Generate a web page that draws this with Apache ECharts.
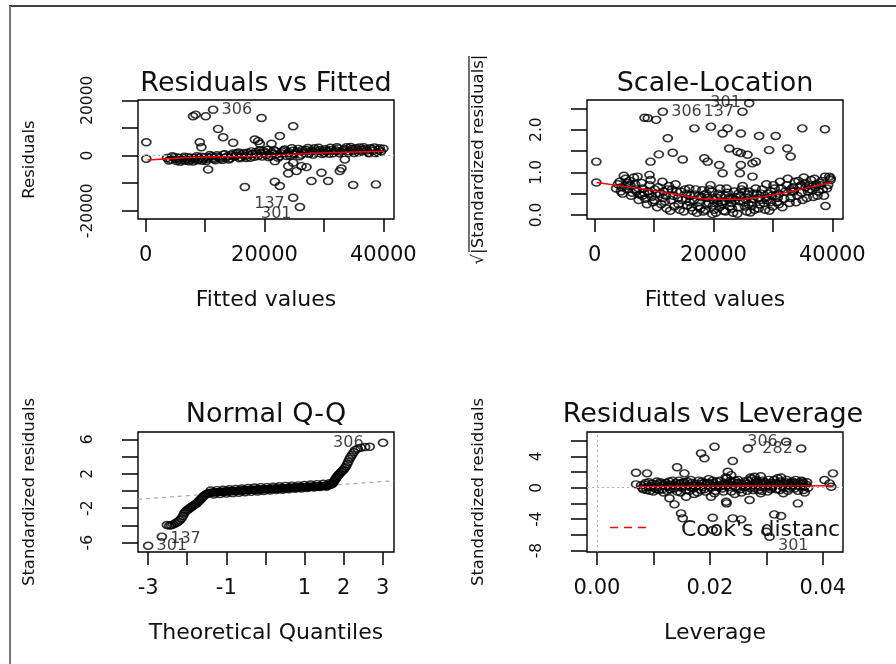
<!DOCTYPE html>
<html><head><meta charset="utf-8">
<script src="https://cdn.jsdelivr.net/npm/echarts@6/dist/echarts.min.js"></script>
<style>html,body{margin:0;padding:0;background:#fff}#c{width:896px;height:664px}</style>
</head><body><div id="c"></div>
<script>
// ---------------- tick values / labels ----------------
const fittedTicks = [0, 10000, 20000, 30000, 40000];
const fittedTickLabels = [0, 20000, 40000];
const residTicks = [-20000, -10000, 0, 10000, 20000];
const residTickLabels = [-20000, 0, 20000];
const sqrtTicks = [0, 0.5, 1, 1.5, 2, 2.5];
const sqrtTickLabels = [0, 1, 2];
const quantTicks = [-3, -2, -1, 0, 1, 2, 3];
const quantTickLabels = [-3, -1, 1, 2, 3];
const qqStdTicks = [-6, -4, -2, 0, 2, 4, 6];
const qqStdTickLabels = [-6, -2, 2, 6];
const levTicks = [0, 0.01, 0.02, 0.03, 0.04];
const levTickLabels = [0, 0.02, 0.04];
const levStdTicks = [-8, -6, -4, -2, 0, 2, 4, 6];
const levStdTickLabels = [-8, -4, 0, 4];

// ---------------- Residuals vs Fitted ----------------
const rvfBand = [[3600,-900],[4200,-1500],[4800,-600],[5200,-2000],[5600,-1100],[6000,-1700],[6500,-400],[6900,-1300],[7300,-2100],[7700,-800],[8200,-1500],[8600,-300],[9000,-1100],[9500,-1900],[9900,-600],[10400,-1300],[10800,200],[11300,-900],[11700,-1700],[12200,-400],[12600,-1200],[13100,300],[13500,-700],[14000,-1500],[14400,100],[14900,-500],[15300,700],[15800,-1000],[16200,400],[16700,-300],[17100,1000],[17600,-800],[18000,500],[18500,1300],[18900,-200],[19400,800],[19800,1600],[20300,200],[20700,-600],[21200,1100],[21600,1900],[22100,400],[22500,-300],[23000,1400],[23400,2200],[23900,700],[24300,-100],[24800,1700],[25200,900],[25700,2400],[26100,300],[26600,1300],[27000,2000],[27500,600],[27900,1600],[28400,2600],[28800,1000],[29300,1900],[29700,500],[30200,2300],[30600,1300],[31100,2800],[31500,800],[32000,1800],[32400,2500],[32900,1200],[33300,2100],[33800,3000],[34200,1500],[34700,2400],[35100,900],[35600,2000],[36000,2900],[36500,1400],[36900,2300],[37400,1100],[37800,2600],[38300,1700],[38700,900],[39200,2100],[39600,1400]];
const rvfBand2 = [[3900,-1800],[4500,-300],[5000,-1300],[5400,-700],[5800,-2300],[6300,-1000],[6700,-1900],[7100,-600],[7500,-1500],[8000,-2200],[8400,-900],[8800,-1700],[9300,-400],[9700,-1300],[10200,-2000],[10600,-700],[11100,-300],[11500,-1300],[12000,100],[12400,-800],[12900,-1600],[13300,500],[13800,-300],[14200,-1100],[14700,700],[15100,-200],[15600,1100],[16000,-600],[16500,800],[16900,-900],[17400,300],[17800,1500],[18300,-500],[18700,700],[19200,1900],[19600,-400],[20100,1000],[20500,2100],[21000,-200],[21400,600],[21900,1500],[22300,-800],[22800,800],[23200,1800],[23700,-200],[24100,1100],[24600,2600],[25000,400],[25500,1500],[25900,-300],[26400,2000],[26800,800],[27300,2700],[27700,1100],[28200,300],[28600,1800],[29100,2800],[29500,1300],[30000,900],[30400,1800],[30900,600],[31300,2000],[31800,1400],[32200,3000],[32700,700],[33100,1600],[33600,2300],[34000,900],[34500,3100],[34900,1800],[35400,2600],[35800,1200],[36300,2200],[36700,3000],[37200,1800],[37600,800],[38100,2300],[38500,2900],[39000,1200],[39400,2600]];
const rvfOutliers = [[100,4800],[100,-1200],[7970,14190],[8400,14800],[10100,14190],[9100,4800],[9380,3000],[12190,9630],[13040,6620],[14720,4600],[18370,5800],[18940,5200],[19220,4270],[19500,13600],[21180,4270],[22580,7040],[24830,10590],[10510,-5050],[16690,-11430],[21740,-9500],[22580,-11070],[21740,-2050],[24000,-3850],[24830,-2650],[25390,-5650],[26230,-3850],[27070,-4210],[24000,-6500],[27900,-9260],[29590,-6260],[30710,-9260],[32680,-5650],[32960,-4690],[33520,-1440],[34930,-10710],[38760,-10470],[40000,2500]];
const rvfSmooth = [[300,-1650],[8000,-650],[14000,-450],[20000,-200],[24000,250],[28000,800],[34000,1200],[40000,1550]];
const rvfIds = [[11350,16600,'306'],[24830,-15300,'137'],[25960,-18660,'301']];

// ---------------- Scale-Location ----------------
const slBand = [[3600,0.62],[4200,0.78],[4700,0.5],[5200,0.85],[5700,0.68],[6100,0.45],[6600,0.88],[7000,0.6],[7400,0.35],[7900,0.75],[8300,0.52],[8800,0.25],[9200,0.7],[9600,0.42],[10100,0.6],[10500,0.18],[11000,0.5],[11400,0.78],[11800,0.32],[12300,0.6],[12700,0.1],[13200,0.45],[13600,0.72],[14100,0.25],[14500,0.55],[15000,0.08],[15400,0.38],[15900,0.62],[16300,0.18],[16800,0.48],[17200,0.05],[17700,0.3],[18100,0.58],[18600,0.12],[19000,0.4],[19500,0.7],[19900,0.22],[20400,0.05],[20800,0.5],[21300,0.3],[21700,0.1],[22200,0.62],[22600,0.4],[23100,0.15],[23500,0.55],[24000,0.03],[24400,0.32],[24900,0.68],[25300,0.2],[25800,0.48],[26200,0.06],[26700,0.38],[27100,0.62],[27600,0.15],[28000,0.5],[28500,0.28],[28900,0.72],[29400,0.1],[29800,0.45],[30300,0.62],[30700,0.3],[31200,0.78],[31600,0.18],[32100,0.55],[32500,0.85],[33000,0.4],[33400,0.65],[33900,0.3],[34300,0.8],[34800,0.52],[35200,0.88],[35700,0.4],[36100,0.7],[36600,0.58],[37000,0.85],[37500,0.45],[37900,0.75],[38400,0.6],[38800,0.9],[39300,0.7],[39700,0.82],[16000,0.3],[17500,0.45],[18800,0.25],[20000,0.35],[21000,0.18],[22000,0.45],[23000,0.28],[24200,0.5],[25500,0.35],[26500,0.22],[27500,0.4],[29000,0.35],[30000,0.2],[31000,0.5],[14000,0.4],[12000,0.45],[10000,0.35],[8000,0.45],[6000,0.7],[4500,0.65],[33500,0.55],[35500,0.65],[37200,0.65]];
const slBand2 = [[3900,0.72],[4400,0.55],[4900,0.92],[5400,0.6],[5900,0.8],[6300,0.52],[6800,0.72],[7200,0.9],[7600,0.48],[8100,0.62],[8500,0.38],[9000,0.55],[9400,0.82],[9800,0.3],[10300,0.5],[10700,0.65],[11200,0.25],[11600,0.55],[12100,0.15],[12500,0.68],[12900,0.35],[13400,0.2],[13800,0.55],[14300,0.12],[14700,0.35],[15200,0.6],[15600,0.22],[16100,0.45],[16500,0.1],[17000,0.6],[17400,0.2],[17900,0.42],[18300,0.08],[18800,0.5],[19200,0.28],[19700,0.55],[20100,0.12],[20600,0.4],[21100,0.62],[21500,0.25],[22000,0.08],[22400,0.52],[22900,0.38],[23300,0.05],[23800,0.42],[24200,0.18],[24700,0.6],[25100,0.3],[25600,0.08],[26000,0.55],[26400,0.3],[26900,0.12],[27300,0.5],[27800,0.25],[28200,0.6],[28700,0.12],[29100,0.5],[29600,0.3],[30100,0.7],[30500,0.45],[31000,0.25],[31400,0.62],[31900,0.38],[32300,0.7],[32800,0.28],[33200,0.55],[33700,0.78],[34100,0.45],[34600,0.68],[35000,0.35],[35400,0.75],[35900,0.55],[36400,0.82],[36800,0.42],[37300,0.72],[37700,0.55],[38200,0.8],[38600,0.45],[39100,0.62],[39500,0.9]];
const slBand3 = [[15500,0.5],[16700,0.35],[17800,0.15],[18500,0.48],[19300,0.6],[19800,0.02],[20700,0.28],[21200,0.45],[21900,0.32],[22700,0.2],[23600,0.35],[24600,0.45],[25200,0.55],[25900,0.25],[26800,0.5],[27900,0.35],[28800,0.4],[29700,0.55],[30800,0.4],[13000,0.6],[11500,0.4],[9200,0.5],[7000,0.55],[5500,0.75],[33000,0.6],[34800,0.7],[36200,0.6],[38000,0.7]];
const slOutliers = [[270,1.25],[270,0.76],[8390,2.28],[8940,2.27],[10340,2.23],[12300,1.8],[10790,1.42],[9390,1.25],[9230,0.94],[13140,1.46],[14820,1.3],[16780,2.03],[18460,1.33],[19010,1.25],[19560,2.07],[20970,1.17],[21530,0.98],[21530,1.91],[22370,2.03],[22650,1.56],[24040,1.48],[24600,1.45],[24600,1.17],[24430,0.98],[24600,1.91],[25720,1.41],[26560,1.21],[27120,1.25],[26560,0.9],[27680,1.85],[29360,1.52],[30470,1.85],[32430,1.56],[32990,1.37],[34950,2.03],[38760,2.01],[38860,0.21],[39700,0.86]];
const slSmooth = [[300,0.76],[5000,0.67],[10000,0.57],[15000,0.45],[18000,0.38],[20000,0.37],[25000,0.37],[28000,0.42],[32000,0.52],[36000,0.64],[40000,0.77]];
const slIds = [[11460,2.42,'306'],[24880,2.42,'137'],[26010,2.62,'301']];

// ---------------- Normal Q-Q ----------------
const qqLower = [[-2.52,-3.95],[-2.46,-4.02],[-2.41,-3.98],[-2.36,-3.88],[-2.31,-3.78],[-2.27,-3.66],[-2.23,-3.55],[-2.19,-3.4],[-2.15,-3.2],[-2.11,-2.9],[-2.08,-2.62],[-2.05,-2.42],[-2.02,-2.3],[-1.99,-2.18],[-1.96,-2.1],[-1.93,-1.98],[-1.90,-1.88],[-1.87,-1.78],[-1.84,-1.68],[-1.81,-1.58],[-1.78,-1.5],[-1.75,-1.4],[-1.72,-1.26],[-1.69,-1.12],[-1.66,-0.98],[-1.63,-0.84],[-1.60,-0.7],[-1.57,-0.56],[-1.54,-0.45],[-1.51,-0.36],[-1.48,-0.3],[-1.45,-0.26]];
const qqMiddle = [[-1.42,-0.22],[-1.38,-0.19],[-1.34,-0.18],[-1.30,-0.16],[-1.26,-0.14],[-1.22,-0.13],[-1.18,-0.12],[-1.14,-0.1],[-1.10,-0.09],[-1.06,-0.08],[-1.02,-0.07],[-0.98,-0.05],[-0.94,-0.04],[-0.90,-0.03],[-0.86,-0.02],[-0.82,0.0],[-0.78,0.01],[-0.74,0.02],[-0.70,0.03],[-0.66,0.04],[-0.62,0.05],[-0.58,0.06],[-0.54,0.08],[-0.50,0.09],[-0.46,0.1],[-0.42,0.11],[-0.38,0.12],[-0.34,0.13],[-0.30,0.14],[-0.26,0.15],[-0.22,0.16],[-0.18,0.17],[-0.14,0.18],[-0.10,0.19],[-0.06,0.2],[-0.02,0.21],[0.02,0.22],[0.06,0.23],[0.10,0.24],[0.14,0.25],[0.18,0.26],[0.22,0.27],[0.26,0.27],[0.30,0.28],[0.34,0.29],[0.38,0.3],[0.42,0.31],[0.46,0.32],[0.50,0.33],[0.54,0.34],[0.58,0.35],[0.62,0.36],[0.66,0.37],[0.70,0.38],[0.74,0.39],[0.78,0.4],[0.82,0.41],[0.86,0.42],[0.90,0.43],[0.94,0.44],[0.98,0.45],[1.02,0.46],[1.06,0.47],[1.10,0.48],[1.14,0.49],[1.18,0.5],[1.22,0.51],[1.26,0.52],[1.30,0.53],[1.34,0.54],[1.38,0.56],[1.42,0.57],[1.46,0.59],[1.50,0.6],[1.54,0.62],[1.58,0.64],[1.62,0.67],[1.66,0.71]];
const qqMiddleSpread = [[-1.40,0.05],[-1.32,-0.4],[-1.24,0.1],[-1.16,-0.35],[-1.08,0.15],[-1.00,-0.3],[-0.92,0.2],[-0.84,-0.25],[-0.76,0.25],[-0.68,-0.2],[-0.60,0.3],[-0.52,-0.15],[-0.44,0.35],[-0.36,-0.1],[-0.28,0.4],[-0.20,-0.05],[-0.12,0.45],[-0.04,0.0],[0.04,0.45],[0.12,0.05],[0.20,0.5],[0.28,0.1],[0.36,0.55],[0.44,0.15],[0.52,0.6],[0.60,0.2],[0.68,0.62],[0.76,0.25],[0.84,0.65],[0.92,0.3],[1.00,0.7],[1.08,0.35],[1.16,0.75],[1.24,0.4],[1.32,0.8],[1.40,0.45],[1.48,0.85],[1.56,0.5],[1.64,0.9]];
const qqUpper = [[1.70,0.78],[1.72,0.88],[1.74,1.0],[1.76,1.14],[1.78,1.28],[1.80,1.42],[1.82,1.56],[1.84,1.68],[1.86,1.8],[1.88,1.92],[1.91,2.05],[1.94,2.2],[1.97,2.32],[2.00,2.46],[2.03,2.65],[2.06,2.85],[2.09,3.1],[2.12,3.4],[2.15,3.7],[2.18,3.95],[2.22,4.2],[2.26,4.5],[2.30,4.75],[2.36,4.92],[2.44,5.02],[2.55,5.1],[2.67,5.14]];
const qqRefLine = [[-3.26,-0.96],[3.29,1.2]];
const qqIds = [[3.01,5.6,'306'],[-2.65,-5.3,'137'],[-3.0,-6.35,'301']];

// ---------------- Residuals vs Leverage ----------------
const rvlBand = [[0.0078,0.3],[0.0082,-0.2],[0.0086,0.6],[0.009,0.1],[0.0094,-0.4],[0.0098,0.5],[0.0102,0.0],[0.0106,0.8],[0.011,-0.3],[0.0114,0.3],[0.0118,-0.6],[0.0122,0.6],[0.0126,0.1],[0.013,-0.2],[0.0134,0.9],[0.0138,0.2],[0.0142,-0.5],[0.0146,0.5],[0.015,0.0],[0.0154,0.7],[0.0158,-0.3],[0.0162,0.3],[0.0166,1.0],[0.017,-0.1],[0.0174,0.5],[0.0178,-0.6],[0.0182,0.2],[0.0186,0.8],[0.019,-0.2],[0.0194,0.4],[0.0198,1.1],[0.0202,0.0],[0.0206,0.6],[0.021,-0.4],[0.0214,0.3],[0.0218,0.9],[0.0222,-0.1],[0.0226,0.5],[0.023,1.2],[0.0234,0.1],[0.0238,-0.5],[0.0242,0.7],[0.0246,0.2],[0.025,1.0],[0.0254,-0.2],[0.0258,0.4],[0.0262,0.8],[0.0266,-0.4],[0.027,0.3],[0.0274,1.1],[0.0278,0.0],[0.0282,0.6],[0.0286,-0.3],[0.029,0.4],[0.0294,0.9],[0.0298,0.1],[0.0302,-0.5],[0.0306,0.6],[0.031,0.2],[0.0314,1.0],[0.0318,-0.2],[0.0322,0.5],[0.0326,1.3],[0.033,0.0],[0.0334,0.7],[0.0338,-0.4],[0.0342,0.3],[0.0346,0.8],[0.035,-0.1],[0.0354,0.5],[0.0358,0.2],[0.0362,0.9],[0.0366,-0.3],[0.037,0.4],[0.0120,0.4],[0.0136,-0.1],[0.0152,0.3],[0.0168,0.6],[0.0184,-0.3],[0.0200,0.5],[0.0216,0.1],[0.0232,0.6],[0.0248,-0.1],[0.0264,0.5],[0.0280,0.3],[0.0296,0.7],[0.0312,0.4],[0.0328,0.2],[0.0344,0.6],[0.0360,0.3],[0.0208,-0.7],[0.0244,-0.8],[0.0290,-0.7],[0.0330,-0.7],[0.0172,-0.8],[0.0320,1.2],[0.0272,1.3],[0.0228,1.3],[0.0364,0.8],[0.0368,-0.6]];
const rvlBand2 = [[0.0080,0.0],[0.0084,0.4],[0.0088,-0.3],[0.0092,0.7],[0.0096,0.2],[0.0100,-0.5],[0.0104,0.4],[0.0108,0.1],[0.0112,0.7],[0.0116,-0.2],[0.0124,-0.4],[0.0128,0.8],[0.0132,0.3],[0.0140,0.6],[0.0144,0.1],[0.0148,-0.6],[0.0156,0.2],[0.0160,0.8],[0.0164,-0.4],[0.0176,0.2],[0.0180,0.9],[0.0188,0.1],[0.0192,-0.5],[0.0196,0.6],[0.0204,0.3],[0.0212,0.8],[0.0220,0.4],[0.0224,-0.5],[0.0236,0.9],[0.0240,0.3],[0.0252,0.5],[0.0256,-0.6],[0.0260,0.1],[0.0268,0.9],[0.0276,-0.3],[0.0284,0.8],[0.0288,0.1],[0.0292,-0.4],[0.0300,0.5],[0.0304,1.0],[0.0308,-0.2],[0.0316,0.6],[0.0324,-0.3],[0.0332,0.4],[0.0336,1.0],[0.0340,-0.1],[0.0348,0.3],[0.0352,1.0],[0.0356,-0.4],[0.0362,0.5],[0.0366,0.1],[0.0372,0.7],[0.0374,0.0]];
const rvlBand3 = [[0.0110,0.5],[0.0130,0.4],[0.0150,0.6],[0.0170,0.3],[0.0190,0.6],[0.0210,0.2],[0.0230,0.3],[0.0250,0.6],[0.0270,0.0],[0.0290,0.6],[0.0310,0.0],[0.0330,0.6],[0.0350,0.6],[0.0105,-0.2],[0.0125,0.2],[0.0145,0.9],[0.0165,0.1],[0.0185,0.5],[0.0205,0.9],[0.0225,0.2],[0.0245,0.9],[0.0265,0.2],[0.0285,0.4],[0.0305,0.3],[0.0325,0.8],[0.0345,0.1],[0.0365,0.6]];
const rvlOutliers = [[0.00692,1.91],[0.00692,0.43],[0.00887,1.83],[0.01284,-1.35],[0.01372,-2.12],[0.01419,2.6],[0.01489,-3.27],[0.01518,-3.9],[0.01548,1.83],[0.01578,-1.15],[0.01844,4.38],[0.01903,3.74],[0.0202,-1.15],[0.0205,-3.82],[0.02081,5.22],[0.0205,-5.39],[0.02287,-1.78],[0.02295,-2.0],[0.02317,2.04],[0.02376,1.6],[0.02405,3.4],[0.02405,-3.9],[0.02553,-4.03],[0.02702,-1.57],[0.02672,5.0],[0.0279,1.4],[0.0282,1.0],[0.029,1.47],[0.0314,-3.4],[0.0326,-3.6],[0.0300,-5.6],[0.03558,-2.0],[0.0403,0.98],[0.0412,0.55],[0.0418,1.83],[0.0415,0.13]];
const rvlSmooth = [[0.0072,0.13],[0.015,0.18],[0.02,0.2],[0.025,0.22],[0.03,0.22],[0.035,0.24],[0.0418,0.25]];
const rvlIds = [[0.03351,5.86,'306'],[0.03617,5.0,'282'],[0.03057,-6.24,'301']];

// ---------------- styling / layout ----------------
const FONT = 'DejaVu Sans';
const INK = '#111';
const SYM = [9, 7];
const circleStyle = { color: 'rgba(0,0,0,0)', borderColor: '#000', borderWidth: 1.6 };
const grids = [
  { left: 138, top: 100, width: 256, height: 119 },
  { left: 587, top: 100, width: 256, height: 119 },
  { left: 138, top: 432, width: 256, height: 120 },
  { left: 587, top: 432, width: 256, height: 120 }
].map(g => Object.assign({ show: true, borderColor: '#000', borderWidth: 1.4, backgroundColor: 'transparent' }, g));

const plain = v => String(v);
function xAx(i, min, max, ticks, labels, fmt, name) {
  return {
    type: 'value', gridIndex: i, min, max, name, nameLocation: 'middle', nameGap: 70,
    nameTextStyle: { fontFamily: FONT, fontSize: 22, color: INK },
    axisLine: { show: false, onZero: false }, splitLine: { show: false },
    axisTick: { show: true, length: 13, lineStyle: { color: '#000', width: 1.5 }, customValues: ticks },
    axisLabel: { customValues: labels, formatter: fmt, margin: 26, fontFamily: FONT, fontSize: 21, color: INK }
  };
}
function yAx(i, min, max, ticks, labels, fmt, name) {
  return {
    type: 'value', gridIndex: i, min, max, name, nameLocation: 'middle', nameGap: 100, nameRotate: 90,
    nameTextStyle: { fontFamily: FONT, fontSize: 16.5, color: INK },
    axisLine: { show: false, onZero: false }, splitLine: { show: false },
    axisTick: { show: true, length: 16, lineStyle: { color: '#000', width: 1.5 }, customValues: ticks },
    axisLabel: { customValues: labels, formatter: fmt, rotate: 90, margin: 42, fontFamily: FONT, fontSize: 15.5, color: INK }
  };
}
function pts(i, data) {
  return { type: 'scatter', xAxisIndex: i, yAxisIndex: i, data, symbol: 'circle', symbolSize: SYM,
    itemStyle: circleStyle, silent: true, z: 2, large: false };
}
function idPts(i, ids, labelCfg) {
  return { type: 'scatter', xAxisIndex: i, yAxisIndex: i, symbol: 'circle', symbolSize: SYM,
    itemStyle: circleStyle, silent: true, z: 4,
    data: ids.map(d => ({ value: [d[0], d[1]], name: d[2],
      label: Object.assign({ show: true, formatter: '{b}', fontFamily: FONT, fontSize: 16, color: INK, distance: 3 }, labelCfg[d[2]]) })) };
}
function smooth(i, data) {
  return { type: 'line', xAxisIndex: i, yAxisIndex: i, data, showSymbol: false, symbol: 'none', silent: true, z: 3,
    lineStyle: { color: '#ff0000', width: 1.4 } };
}
const dotted = { color: '#b0b0b0', width: 1, type: [2, 3] };

const option = {
  animation: false,
  backgroundColor: '#fff',
  grid: grids,
  title: [
    { text: 'Residuals vs Fitted', left: 266, top: 70 },
    { text: 'Scale-Location', left: 715, top: 70 },
    { text: 'Normal Q-Q', left: 266, top: 401 },
    { text: 'Residuals vs Leverage', left: 713, top: 401 }
  ].map(t => Object.assign({ textAlign: 'center', padding: 0,
    textStyle: { fontFamily: FONT, fontSize: 27, fontWeight: 'normal', color: INK } }, t)),
  xAxis: [
    xAx(0, -1300, 41800, fittedTicks, fittedTickLabels, plain, 'Fitted values'),
    xAx(1, -1300, 41800, fittedTicks, fittedTickLabels, plain, 'Fitted values'),
    xAx(2, -3.26, 3.29, quantTicks, quantTickLabels, plain, 'Theoretical Quantiles'),
    xAx(3, -0.00177, 0.04357, levTicks, levTickLabels, v => v.toFixed(2), 'Leverage')
  ],
  yAxis: [
    yAx(0, -23000, 20100, residTicks, residTickLabels, plain, 'Residuals'),
    yAx(1, -0.094, 2.695, sqrtTicks, sqrtTickLabels, v => v.toFixed(1), '\u221A|Standardized residuals|'),
    yAx(2, -7.08, 6.85, qqStdTicks, qqStdTickLabels, plain, 'Standardized residuals'),
    yAx(3, -8.19, 7.1, levStdTicks, levStdTickLabels, plain, 'Standardized residuals')
  ],
  series: [
    Object.assign(pts(0, rvfBand.concat(rvfBand2, rvfOutliers)), {
      markLine: { silent: true, symbol: 'none', label: { show: false }, lineStyle: dotted, data: [{ yAxis: 0 }] } }),
    smooth(0, rvfSmooth),
    idPts(0, rvfIds, { '306': { position: 'right' }, '137': { position: 'left', offset: [0, 6] }, '301': { position: 'left', offset: [0, 7] } }),

    pts(1, slBand.concat(slBand2, slBand3, slOutliers)),
    smooth(1, slSmooth),
    idPts(1, slIds, { '306': { position: 'right' }, '137': { position: 'left' }, '301': { position: 'left' } }),

    pts(2, qqLower.concat(qqMiddle, qqMiddleSpread, qqUpper)),
    { type: 'line', xAxisIndex: 2, yAxisIndex: 2, data: qqRefLine, showSymbol: false, symbol: 'none', silent: true, z: 1,
      lineStyle: { color: '#999', width: 1, type: [4, 4] } },
    idPts(2, qqIds, { '306': { position: 'left', distance: 14 }, '137': { position: 'right', offset: [0, 2] }, '301': { position: 'right' } }),

    Object.assign(pts(3, rvlBand.concat(rvlBand2, rvlBand3, rvlOutliers)), {
      markLine: { silent: true, symbol: 'none', label: { show: false }, lineStyle: dotted, data: [{ yAxis: 0 }, { xAxis: 0 }] } }),
    smooth(3, rvlSmooth),
    idPts(3, rvlIds, { '306': { position: 'left' }, '282': { position: 'left' }, '301': { position: 'right', offset: [0, 9] } })
  ],
  graphic: [
    { type: 'line', shape: { x1: 9, y1: 6, x2: 896, y2: 6 }, style: { stroke: '#000', lineWidth: 1.5 }, silent: true },
    { type: 'line', shape: { x1: 10, y1: 6, x2: 10, y2: 664 }, style: { stroke: '#777', lineWidth: 2 }, silent: true },
    { type: 'line', shape: { x1: 469, y1: 56, x2: 469, y2: 252 }, style: { stroke: '#111', lineWidth: 1.2 }, silent: true },
    { type: 'line', shape: { x1: 610, y1: 527.5, x2: 652, y2: 527.5 }, style: { stroke: '#ff0000', lineWidth: 1.5, lineDash: [8, 6] }, silent: true, z: 10 },
    { type: 'text', x: 681, y: 530, silent: true, z: 10,
      style: { text: "Cook's distance", fill: INK, font: '22px "DejaVu Sans"', textVerticalAlign: 'middle',
        width: 170, overflow: 'truncate', ellipsis: '' } }
  ]
};
const chart = echarts.init(document.getElementById('c'), null, { renderer: 'canvas' });
chart.setOption(option);
</script></body></html>
